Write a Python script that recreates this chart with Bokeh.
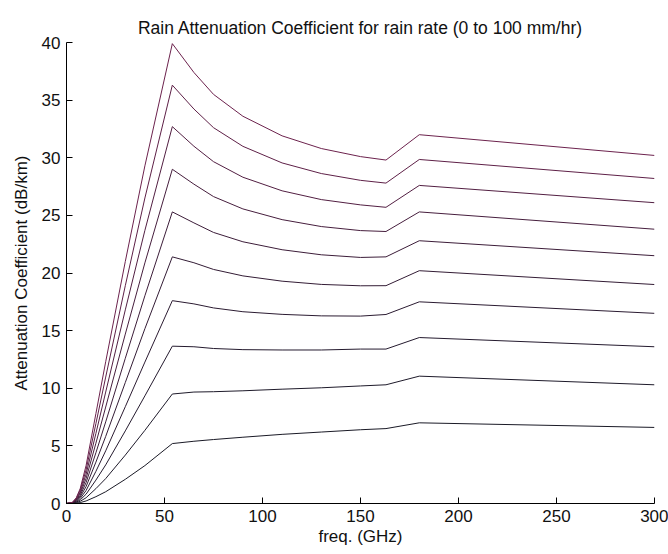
from bokeh.plotting import figure
from bokeh.embed import file_html
from bokeh.resources import INLINE
from bokeh.models import Range1d, FixedTicker

# ---- data ----
freq_ghz = [0, 3, 5, 7, 10, 15, 20, 30, 40, 54, 65, 75, 90, 110, 130, 150, 163, 180, 300]
rain_rates = [0, 10, 20, 30, 40, 50, 60, 70, 80, 90, 100]

att_r0 = [0, 0, 0, 0, 0, 0, 0, 0, 0, 0, 0, 0, 0, 0, 0, 0, 0, 0, 0]
att_r10 = [0, 0.01, 0.03, 0.08, 0.22, 0.59, 1.02, 2.1, 3.29, 5.2, 5.4, 5.55, 5.75, 6.0, 6.2, 6.4, 6.5, 7.0, 6.6]
att_r20 = [0, 0.01, 0.07, 0.19, 0.50, 1.29, 2.16, 4.2, 6.35, 9.5, 9.67, 9.70, 9.78, 9.92, 10.04, 10.20, 10.3, 11.05, 10.3]
att_r30 = [0, 0.02, 0.115, 0.31, 0.81, 2.03, 3.35, 6.3, 9.34, 13.65, 13.60, 13.45, 13.35, 13.32, 13.32, 13.40, 13.4, 14.4, 13.6]
att_r40 = [0, 0.03, 0.16, 0.43, 1.13, 2.79, 4.57, 8.4, 12.27, 17.6, 17.32, 16.97, 16.64, 16.41, 16.28, 16.26, 16.4, 17.5, 16.5]
att_r50 = [0, 0.04, 0.21, 0.57, 1.47, 3.59, 5.82, 10.5, 15.17, 21.4, 20.89, 20.31, 19.75, 19.29, 19.01, 18.89, 18.9, 20.2, 19.0]
att_r60 = [0, 0.05, 0.27, 0.70, 1.82, 4.40, 7.08, 12.6, 18.03, 25.3, 24.35, 23.52, 22.71, 22.02, 21.58, 21.35, 21.4, 22.8, 21.5]
att_r70 = [0, 0.06, 0.32, 0.85, 2.17, 5.23, 8.37, 14.7, 20.88, 29.0, 27.71, 26.63, 25.56, 24.63, 24.03, 23.68, 23.6, 25.3, 23.8]
att_r80 = [0, 0.08, 0.38, 0.99, 2.54, 6.08, 9.67, 16.8, 23.70, 32.7, 31.00, 29.66, 28.31, 27.13, 26.37, 25.91, 25.7, 27.6, 26.1]
att_r90 = [0, 0.09, 0.44, 1.15, 2.92, 6.93, 10.97, 18.9, 26.51, 36.3, 34.23, 32.61, 30.99, 29.55, 28.63, 28.04, 27.8, 29.85, 28.2]
att_r100 = [0, 0.1, 0.5, 1.3, 3.3, 7.8, 12.3, 21.0, 29.3, 39.9, 37.4, 35.5, 33.6, 31.9, 30.8, 30.1, 29.8, 32.0, 30.2]

x_ticks = [0, 50, 100, 150, 200, 250, 300]
y_ticks = [0, 5, 10, 15, 20, 25, 30, 35, 40]

series = [att_r0, att_r10, att_r20, att_r30, att_r40, att_r50,
          att_r60, att_r70, att_r80, att_r90, att_r100]

# ---- styles ----
line_colors = ["#1c1c8a", "#1a1a26", "#1e1a2a", "#241a2e", "#2b1b31", "#331c35",
               "#3c1d39", "#461e3d", "#521f42", "#5e2047", "#6c224d"]

FONT = "Liberation Sans"

p = figure(width=668, height=554, output_backend="svg", toolbar_location=None,
           x_range=Range1d(0, 300), y_range=Range1d(0, 40),
           min_border_left=66, min_border_right=14, min_border_top=42,
           min_border_bottom=51)

p.title.text = "Rain Attenuation Coefficient for rain rate (0 to 100 mm/hr)"
p.title.align = "center"
p.title.text_font = FONT
p.title.text_font_size = "17.5px"
p.title.text_font_style = "normal"
p.title.text_color = "#111111"

for rr, vals, col in zip(rain_rates, series, line_colors):
    p.line(freq_ghz, vals, line_color=col, line_width=1)

p.xgrid.visible = False
p.ygrid.visible = False
p.outline_line_color = None
p.background_fill_color = "white"
p.border_fill_color = "white"

for ax in (p.xaxis[0], p.yaxis[0]):
    ax.axis_line_color = "black"
    ax.axis_line_width = 1
    ax.major_tick_in = 6
    ax.major_tick_out = 0
    ax.minor_tick_in = 0
    ax.minor_tick_out = 0
    ax.major_tick_line_color = "black"
    ax.major_label_text_font = FONT
    ax.major_label_text_font_size = "17px"
    ax.major_label_text_color = "#111111"
    ax.major_label_standoff = 6
    ax.axis_label_text_font = FONT
    ax.axis_label_text_font_size = "17px"
    ax.axis_label_text_font_style = "normal"
    ax.axis_label_text_color = "#111111"

p.xaxis[0].ticker = FixedTicker(ticks=x_ticks)
p.yaxis[0].ticker = FixedTicker(ticks=y_ticks)
p.xaxis[0].axis_label = "freq. (GHz)"
p.yaxis[0].axis_label = "Attenuation Coefficient (dB/km)"
p.xaxis[0].axis_label_standoff = 2
p.yaxis[0].axis_label_standoff = 8

open("out.html", "w").write(file_html(p, INLINE))
